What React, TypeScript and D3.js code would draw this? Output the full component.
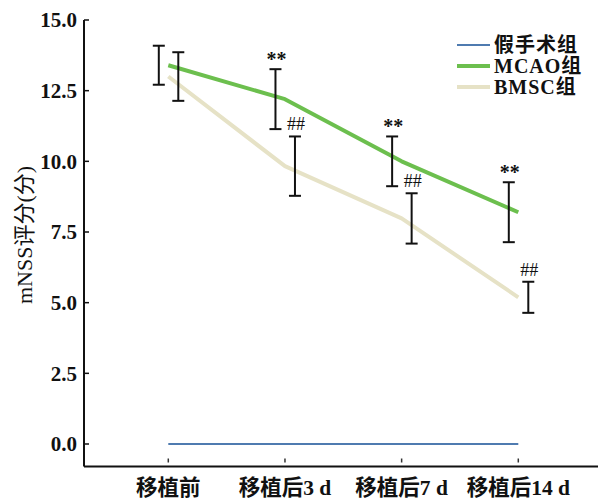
import React, { useRef, useEffect } from "react";
import * as d3 from "d3";

const categories = ["移植前", "移植后3 d", "移植后7 d", "移植后14 d"];
const seriesNames = ["假手术组", "MCAO组", "BMSC组"];
const shamMean = [0, 0, 0, 0];
const mcaoMean = [13.4, 12.2, 10.0, 8.2];
const mcaoErr = [0.69, 1.06, 0.88, 1.06];
const bmscMean = [13.0, 9.83, 7.98, 5.19];
const bmscErr = [0.86, 1.05, 0.89, 0.55];
const mcaoMarks = ["", "**", "**", "**"];
const bmscMarks = ["", "##", "##", "##"];
const yTicks = [0, 2.5, 5, 7.5, 10, 12.5, 15];

const colors = ["#4f7bb0", "#6cbf4e", "#e6e2c6"];
const latin = "'Liberation Serif', 'Noto Sans CJK SC', serif";

export default function App() {
  const ref = useRef<SVGSVGElement>(null);

  useEffect(() => {
    const width = 598;
    const height = 501;
    const svg = d3.select(ref.current);
    svg.selectAll("*").remove();
    svg.attr("width", width).attr("height", height);

    const x = d3.scalePoint<string>().domain(categories).range([168.3, 518.3]);
    const y = d3.scaleLinear().domain([0, 15]).range([444, 20]);
    const axisX = 84;
    const axisY = 466.5;

    // axes
    svg.append("line").attr("x1", axisX).attr("x2", axisX).attr("y1", 20).attr("y2", axisY)
      .attr("stroke", "#111").attr("stroke-width", 2);
    svg.append("line").attr("x1", axisX).attr("x2", width).attr("y1", axisY).attr("y2", axisY)
      .attr("stroke", "#111").attr("stroke-width", 2);

    const yt = svg.append("g");
    yTicks.forEach(t => {
      yt.append("line").attr("x1", axisX).attr("x2", axisX + 5).attr("y1", y(t)).attr("y2", y(t))
        .attr("stroke", "#111").attr("stroke-width", 1.5);
      yt.append("text").attr("x", 77).attr("y", y(t)).attr("dy", "0.35em")
        .attr("text-anchor", "end").style("font-family", latin).style("font-size", "21px")
        .style("font-weight", 700).style("fill", "#111").text(d3.format(".1f")(t));
    });

    const xt = svg.append("g");
    categories.forEach(c => {
      xt.append("line").attr("x1", x(c)!).attr("x2", x(c)!).attr("y1", axisY - 8).attr("y2", axisY - 4)
        .attr("stroke", "#333").attr("stroke-width", 1.5);
      xt.append("text").attr("x", x(c)!).attr("y", 495).attr("text-anchor", "middle")
        .style("font-family", latin).style("font-size", "21.5px").style("font-weight", 700)
        .style("fill", "#111").text(c);
    });

    // y label
    svg.append("text").attr("transform", "translate(32,235) rotate(-90)")
      .attr("text-anchor", "middle").style("font-family", latin).style("font-size", "22px")
      .style("fill", "#111").text("mNSS评分(分)");

    const line = d3.line<number>().x((d, i) => x(categories[i])!).y(d => y(d));
    const means = [shamMean, mcaoMean, bmscMean];
    [2, 1, 0].forEach(s => {
      svg.append("path").datum(means[s]).attr("d", line).attr("fill", "none")
        .attr("stroke", colors[s]).attr("stroke-width", s === 0 ? 2 : 4)
        .attr("stroke-linejoin", "round");
    });

    // error bars
    const drawErr = (m: number[], e: number[], off: number, marks: string[], bold: boolean) => {
      m.forEach((v, i) => {
        const cx = x(categories[i])! + off;
        const g = svg.append("g").attr("stroke", "#111").attr("stroke-width", 2);
        g.append("line").attr("x1", cx).attr("x2", cx).attr("y1", y(v + e[i])).attr("y2", y(v - e[i]));
        [v + e[i], v - e[i]].forEach(b => {
          g.append("line").attr("x1", cx - 6).attr("x2", cx + 6).attr("y1", y(b)).attr("y2", y(b));
        });
        if (marks[i]) {
          svg.append("text").attr("x", cx + 1).attr("y", y(v + e[i]) - (bold ? 3 : 6))
            .attr("text-anchor", "middle")
            .style("font-family", latin).style("font-size", bold ? "20px" : "18px")
            .style("font-weight", bold ? 700 : 400)
            .style("fill", "#111").text(marks[i]);
        }
      });
    };
    drawErr(mcaoMean, mcaoErr, -9.5, mcaoMarks, true);
    drawErr(bmscMean, bmscErr, 10, bmscMarks, false);

    // legend
    const lg = svg.append("g");
    seriesNames.forEach((n, i) => {
      const ly = 45 + i * 21;
      lg.append("line").attr("x1", 457).attr("x2", 490).attr("y1", ly).attr("y2", ly)
        .attr("stroke", colors[i]).attr("stroke-width", i === 0 ? 2 : 4);
      lg.append("text").attr("x", 494).attr("y", ly).attr("dy", "0.36em")
        .style("font-family", latin).style("font-size", "20px").style("font-weight", 700)
        .style("letter-spacing", "1px").style("fill", "#111").text(n);
    });
  }, []);

  return <svg ref={ref} style={{ position: "absolute", left: 0, top: 0, background: "#fff" }}></svg>;
}
